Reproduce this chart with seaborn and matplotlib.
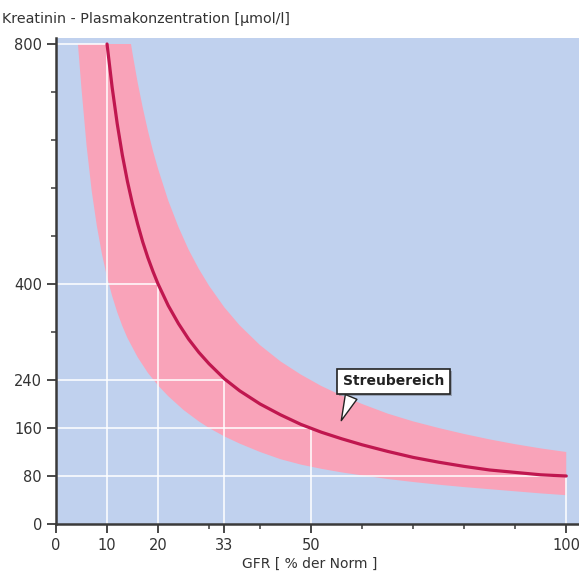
import numpy as np
import pandas as pd
import seaborn as sns
import matplotlib
matplotlib.use("Agg")
import matplotlib.pyplot as plt
import matplotlib.patheffects as pe

# ---- data ----
gfr_center = [10, 11, 12, 13, 14, 15, 16, 17, 18, 19, 20, 22, 24, 26, 28, 30, 33, 36,
              40, 44, 48, 52, 56, 60, 65, 70, 75, 80, 85, 90, 95, 100]
krea_center = [800, 728, 667, 615, 571, 533, 500, 470, 444, 421, 400, 364, 334, 308,
               286, 267, 242, 222, 200, 182, 166, 153, 142, 132, 121, 111, 103, 96,
               90, 86, 82, 80]

gfr_upper = [14.7, 15, 16, 17, 18, 19, 20, 22, 24, 26, 28, 30, 33, 36, 40, 44, 48,
             52, 56, 60, 65, 70, 75, 80, 85, 90, 95, 100]
krea_upper = [800, 784, 736, 694, 656, 622, 592, 539, 495, 457, 425, 397, 361, 331,
              298, 271, 249, 230, 214, 200, 184, 171, 160, 150, 141, 133, 126, 120]

gfr_lower = [4.3, 5, 6, 7, 8, 9, 10, 11, 12, 13, 14, 16, 18, 20, 22, 25, 28, 30, 33,
             36, 40, 44, 48, 52, 56, 60, 65, 70, 75, 80, 85, 90, 95, 100]
krea_lower = [800, 725, 630, 555, 497, 450, 412, 380, 353, 330, 310, 278, 252, 231,
              213, 190, 171, 160, 146, 134, 120, 108, 99, 92, 86, 81, 75, 70, 65.5,
              61.5, 58, 54.5, 51, 48]

# reference (white) lines: GFR value and matching creatinine value
ref_gfr = [10, 20, 33, 50, 100]
ref_krea = [800, 400, 240, 160, 80]

x_ticks = [0, 10, 20, 33, 50, 100]
x_minor = [30, 40, 60, 70, 80, 90]
y_ticks = [0, 80, 160, 240, 400, 800]
y_minor = [320, 480, 560, 640, 720]

title = "Kreatinin - Plasmakonzentration [\u00b5mol/l]"
xlabel = "GFR [ % der Norm ]"
note = "Streubereich"

# ---- style ----
sns.set_style("ticks")
plt.rcParams["font.family"] = ["DejaVu Sans"]

BG = "#c0d1ee"
PINK = "#f9a3b9"
LINE = "#c0174f"
AX = "#3a3a3a"

fig = plt.figure(figsize=(5.79, 5.75), dpi=100)
ax = fig.add_axes([56 / 579, 51 / 575, 1 - 56 / 579, (524 - 38) / 575])
ax.set_facecolor(BG)

df_c = pd.DataFrame({"GFR": gfr_center, "Kreatinin": krea_center})

# band
band_x = list(gfr_upper) + list(gfr_lower[::-1])
band_y = list(krea_upper) + list(krea_lower[::-1])
ax.fill(band_x, band_y, color=PINK, lw=0, zorder=1)

# white reference lines
for gx, ky in zip(ref_gfr, ref_krea):
    ax.plot([gx, gx], [0, ky], color="white", lw=1.3, alpha=0.85, zorder=2)
    ax.plot([0, gx], [ky, ky], color="white", lw=1.3, alpha=0.85, zorder=2)

# center curve
sns.lineplot(data=df_c, x="GFR", y="Kreatinin", ax=ax, color=LINE, lw=2.3,
             zorder=3, sort=False)

ax.set_xlim(0, 102.5)
ax.set_ylim(0, 810)
ax.set_xticks(x_ticks)
ax.set_xticks(x_minor, minor=True)
ax.set_yticks(y_ticks)
ax.set_yticks(y_minor, minor=True)
ax.set_xticklabels([str(v) for v in x_ticks])
ax.set_yticklabels([str(v) for v in y_ticks])
ax.set_xlabel("")
ax.set_ylabel("")

for s in ["top", "right"]:
    ax.spines[s].set_visible(False)
for s in ["left", "bottom"]:
    ax.spines[s].set_color(AX)
    ax.spines[s].set_linewidth(1.8)

ax.tick_params(axis="both", which="major", length=6.5, width=1.3, color=AX,
               labelsize=10.5, labelcolor="#333333", pad=3.5)
ax.tick_params(axis="both", which="minor", length=3.5, width=1.1, color=AX)

fig.text(2 / 579, 1 - 23 / 575, title, fontsize=10.3, color="#333333",
         ha="left", va="baseline")
fig.text(310 / 579, 1 - 568 / 575, xlabel, fontsize=10, color="#333333",
         ha="center", va="baseline")

ann = ax.annotate(note, xy=(55.7, 168), xytext=(66.1, 238), fontsize=10,
                  fontweight="bold", color="#222222", ha="center", va="center",
                  zorder=6,
                  bbox=dict(boxstyle="square,pad=0.4", fc="white", ec="#222222", lw=1.2),
                  arrowprops=dict(arrowstyle="wedge,tail_width=0.9,shrink_factor=0.5",
                                  fc="white", ec="#222222", lw=1.0,
                                  relpos=(0.12, 0.0)))
ann.get_bbox_patch().set_path_effects(
    [pe.SimplePatchShadow(offset=(1.5, -1.5), alpha=0.35), pe.Normal()])

fig.savefig("out.png", dpi=100)
